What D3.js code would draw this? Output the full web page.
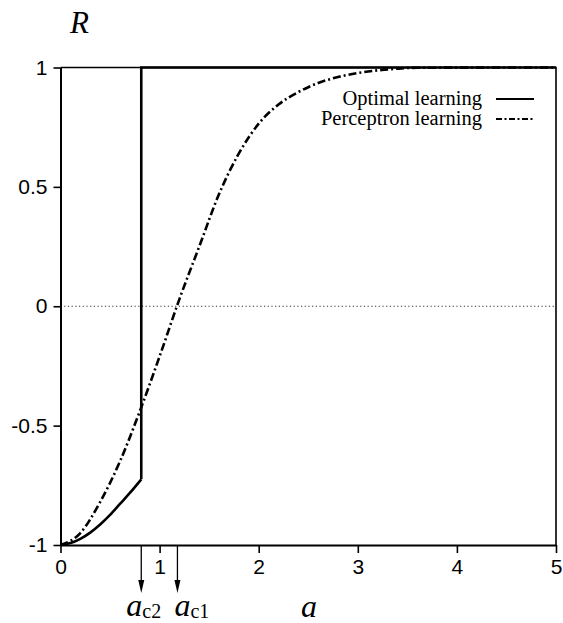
<!DOCTYPE html>
<html>
<head>
<meta charset="utf-8">
<script src="https://cdn.jsdelivr.net/npm/d3@7"></script>
<style>
  html, body { margin: 0; padding: 0; background: #fff; }
  svg { display: block; }
</style>
</head>
<body>
<svg id="chart" width="563" height="623"></svg>
<script>
// Overlap R versus a for the two learning rules
const optimalA = [0, 0.1, 0.2, 0.3, 0.4, 0.5, 0.6, 0.7, 0.815];
const optimalR = [-1, -0.992, -0.974, -0.948, -0.914, -0.874, -0.828, -0.782, -0.725];
// after the jump at the critical point the optimal rule stays at R = 1
const optimalJumpA = [0.815, 0.815, 5];
const optimalJumpR = [-0.725, 1, 1];

const perceptronA = [0, 0.2, 0.4, 0.6, 0.8, 1.0, 1.2, 1.4, 1.6, 1.8, 2.0, 2.2, 2.4, 2.6, 2.8, 3.0, 3.2, 3.4, 3.6, 5];
const perceptronR = [-1, -0.95, -0.82, -0.65, -0.44, -0.21, 0.03, 0.25, 0.47, 0.64, 0.765, 0.845, 0.897, 0.935, 0.96, 0.977, 0.988, 0.995, 0.999, 1];

const xTicks = [0, 1, 2, 3, 4, 5];
const yTicks = [-1, -0.5, 0, 0.5, 1];
const yTickLabels = ["-1", "-0.5", "0", "0.5", "1"];

// critical values marked with arrows below the axis
const criticalNames = ["c2", "c1"];
const criticalA = [0.815, 1.18];

const legendNames = ["Optimal learning", "Perceptron learning"];

const svg = d3.select("#chart");
const x = d3.scaleLinear().domain([0, 5]).range([60.5, 556]);
const y = d3.scaleLinear().domain([-1, 1]).range([545, 67.5]);

const serif = "'Liberation Serif', 'Times New Roman', serif";
const sans = "'Liberation Sans', Arial, sans-serif";

// zero reference line
svg.append("line")
  .attr("x1", x(0)).attr("x2", x(5))
  .attr("y1", y(0)).attr("y2", y(0))
  .attr("stroke", "#333").attr("stroke-width", 1)
  .attr("stroke-dasharray", "1.2,2.5");

// frame: top and right edges
svg.append("path")
  .attr("d", `M${x(0)},${y(1)}H${x(5)}V${y(-1)}`)
  .attr("fill", "none").attr("stroke", "#000").attr("stroke-width", 1.6);

// axes
const yAxis = d3.axisLeft(y).tickValues(yTicks)
  .tickFormat((d, i) => yTickLabels[i]).tickSize(7).tickSizeOuter(0).tickPadding(6);
const gy = svg.append("g").attr("transform", `translate(${x(0)},0)`).call(yAxis);

const xAxis = d3.axisBottom(x).tickValues(xTicks)
  .tickFormat(d3.format("d")).tickSize(8).tickSizeOuter(0).tickPadding(6);
const gx = svg.append("g").attr("transform", `translate(0,${y(-1)})`).call(xAxis);

[gx, gy].forEach(g => {
  g.select(".domain").attr("stroke", "#000").attr("stroke-width", 2);
  g.selectAll(".tick line").attr("stroke", "#000").attr("stroke-width", 1.6);
  g.selectAll(".tick text").attr("fill", "#000")
    .style("font-family", sans).style("font-size", "21px");
});

// curves
const smooth = d3.line().x(d => x(d[0])).y(d => y(d[1])).curve(d3.curveMonotoneX);
const straight = d3.line().x(d => x(d[0])).y(d => y(d[1]));

svg.append("path")
  .datum(perceptronA.map((a, i) => [a, perceptronR[i]]))
  .attr("d", smooth)
  .attr("fill", "none").attr("stroke", "#000").attr("stroke-width", 2.6)
  .attr("stroke-dasharray", "8,3,2,3");

svg.append("path")
  .datum(optimalA.map((a, i) => [a, optimalR[i]]))
  .attr("d", smooth)
  .attr("fill", "none").attr("stroke", "#000").attr("stroke-width", 2.6);

svg.append("path")
  .datum(optimalJumpA.map((a, i) => [a, optimalJumpR[i]]))
  .attr("d", straight)
  .attr("fill", "none").attr("stroke", "#000").attr("stroke-width", 2.6)
  .attr("stroke-linejoin", "miter");

// legend
const legend = svg.append("g");
const legendDash = [null, "6,2.5,2,2.5"];
legendNames.forEach((name, i) => {
  const yy = 99 + i * 20;
  legend.append("text")
    .attr("x", 482).attr("y", yy + 6)
    .attr("text-anchor", "end")
    .style("font-family", serif).style("font-size", "20.5px")
    .text(name);
  legend.append("line")
    .attr("x1", 496).attr("x2", 534)
    .attr("y1", yy).attr("y2", yy)
    .attr("stroke", "#000").attr("stroke-width", 2.2)
    .attr("stroke-dasharray", legendDash[i]);
});

// critical points: arrows and labels
const arrowTop = y(-1);
const arrowTip = 593;
const labelShift = [-15, -3];
criticalA.forEach((a, i) => {
  const cx = x(a);
  svg.append("line")
    .attr("x1", cx).attr("x2", cx)
    .attr("y1", arrowTop).attr("y2", arrowTip - 6)
    .attr("stroke", "#000").attr("stroke-width", 1.3);
  svg.append("path")
    .attr("d", `M${cx - 3},${arrowTip - 13}L${cx},${arrowTip}L${cx + 3},${arrowTip - 13}Z`)
    .attr("fill", "#000");
  const t = svg.append("text")
    .attr("x", cx + labelShift[i]).attr("y", 616)
    .style("font-family", serif);
  t.append("tspan").style("font-style", "italic").style("font-size", "32px").text("a");
  t.append("tspan").attr("dy", 2).style("font-size", "20px").text(criticalNames[i]);
});

// axis titles
svg.append("text")
  .attr("x", 301).attr("y", 617)
  .style("font-family", serif).style("font-style", "italic").style("font-size", "32px")
  .text("a");

svg.append("text")
  .attr("x", 70).attr("y", 33)
  .style("font-family", serif).style("font-style", "italic").style("font-size", "31px")
  .text("R");
</script>
</body>
</html>
